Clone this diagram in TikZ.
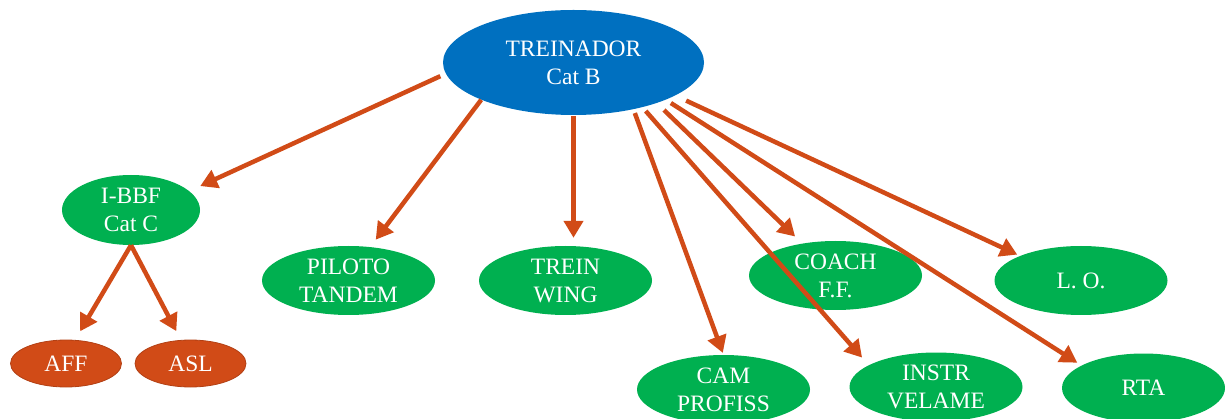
\documentclass[tikz,border=0pt]{standalone}
\usepackage{fontspec}
\setmainfont{Liberation Serif}
\usetikzlibrary{shapes.geometric}
\usetikzlibrary{arrows.meta}

\definecolor{chefblue}{RGB}{0,112,192}
\definecolor{instgreen}{RGB}{0,176,80}
\definecolor{linkred}{RGB}{209,75,23}

\begin{document}
\begin{tikzpicture}[x=1pt, y=-1pt,
  oval/.style={ellipse, inner sep=0pt, text=white, align=center,
    font=\fontsize{23.5}{28}\selectfont},
  head/.style={oval, fill=chefblue, minimum width=261pt, minimum height=105pt},
  inst/.style={oval, fill=instgreen, minimum width=173pt, minimum height=69pt},
  leaf/.style={oval, fill=linkred, draw=linkred!85!black, line width=0.8pt,
    minimum width=111pt, minimum height=47pt},
  link/.style={draw=linkred, line width=4.5pt, shorten <=4pt, shorten >=9pt,
    -{Triangle[length=17pt,width=19pt]}}]
  \useasboundingbox (0,0) rectangle (1225,419);

  \node[head] (treinador) at (573.5,62.5) {TREINADOR\\Cat B};

  \node[inst, minimum width=138pt, minimum height=70pt] (ibbf) at (131,210) {I-BBF\\Cat C};
  \node[inst] (piloto) at (348.5,280.5) {PILOTO\\TANDEM};
  \node[inst] (wing) at (565.5,280.5) {TREIN\\WING};
  \node[inst] (coach) at (835.5,275.5) {COACH\\F.F.};
  \node[inst] (lo) at (1081,280.5) {L. O.};
  \node[inst] (cam) at (723.5,389.5) {CAM\\PROFISS};
  \node[inst] (velame) at (936,387) {INSTR\\VELAME};
  \node[inst, minimum width=163pt] (rta) at (1143.5,388) {RTA};

  \node[leaf] (aff) at (66,363.5) {AFF};
  \node[leaf] (asl) at (190.5,363.5) {ASL};

  % arrows from the top
  \draw[link, shorten <=6pt, shorten >=12pt] (treinador.185.8) -- (ibbf.18.2);
  \draw[link, shorten <=0pt] (treinador.202.3) -- (piloto.57.4);
  \draw[link, shorten <=1pt, shorten >=8pt] (treinador.270) -- (treinador.270 |- wing.north);
  \draw[link, shorten >=2pt] (treinador.322) -- (cam.90);
  \draw[link, shorten <=5pt, shorten >=10pt] (treinador.327.1) -- (velame.162);
  \draw[link, shorten <=10pt, shorten >=10pt] (treinador.334.5) -- (coach.136.4);
  \draw[link, shorten <=6pt, shorten >=5pt] (treinador.338.1) -- (rta.160);
  \draw[link, shorten <=12pt, shorten >=3pt] (treinador.342.2) -- (lo.158);

  % arrows below I-BBF
  \draw[link, shorten <=0pt, shorten >=10pt] (ibbf.270) -- (aff.69.7);
  \draw[link, shorten <=0pt, shorten >=10pt] (ibbf.270) -- (asl.112.5);
\end{tikzpicture}
\end{document}
